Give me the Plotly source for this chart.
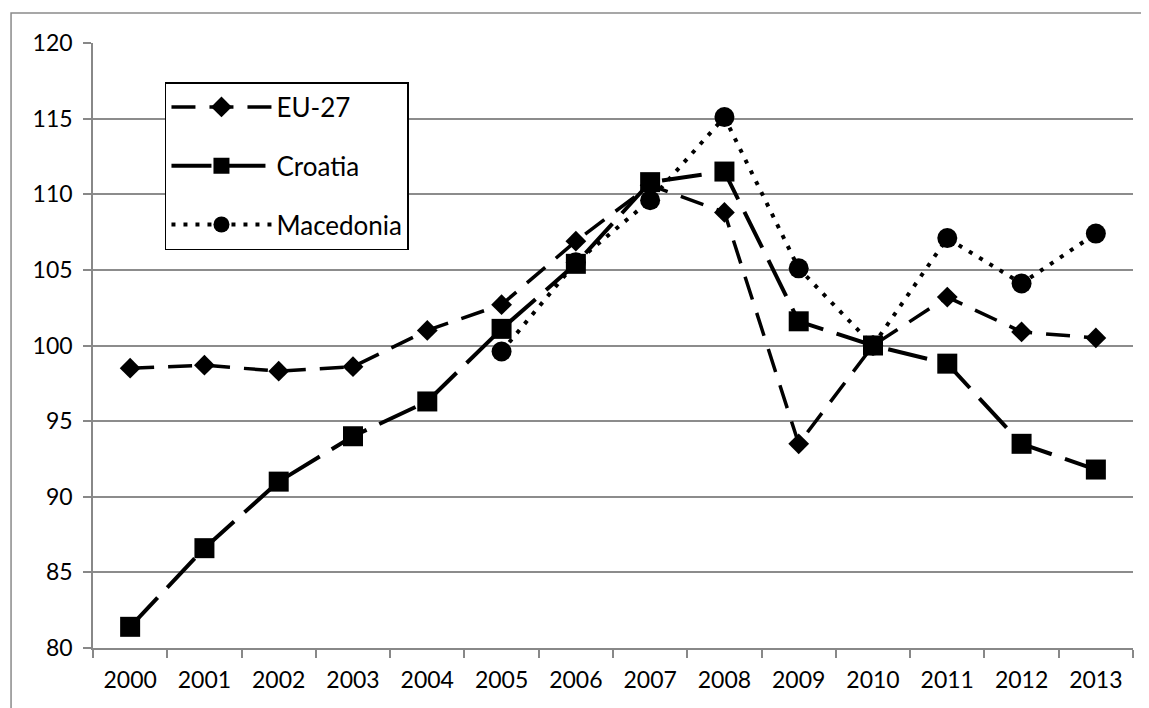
import plotly.graph_objects as go

years = [str(y) for y in range(2000, 2014)]
eu27 = [98.5, 98.7, 98.3, 98.6, 101.0, 102.7, 106.9, 110.6, 108.8, 93.5, 100.0, 103.2, 100.9, 100.5]
croatia = [81.4, 86.6, 91.0, 94.0, 96.3, 101.1, 105.4, 110.8, 111.5, 101.6, 100.0, 98.8, 93.5, 91.8]
macedonia = [None, None, None, None, None, 99.6, 105.5, 109.6, 115.1, 105.1, 100.0, 107.1, 104.1, 107.4]
y_ticks = [80, 85, 90, 95, 100, 105, 110, 115, 120]

FONT = "Lato"
fig = go.Figure()

fig.add_trace(go.Scatter(
    x=years, y=eu27, name="EU-27", mode="lines+markers", legendrank=1,
    legendgroup="a",
    line=dict(color="black", width=3.5, dash="24px,14px"),
    marker=dict(symbol="diamond", size=16, color="black"),
))
fig.add_trace(go.Scatter(
    x=years, y=macedonia, name="Macedonia", mode="lines+markers", legendrank=3,
    legendgroup="c",
    line=dict(color="black", width=4, dash="4px,8px"),
    marker=dict(symbol="circle", size=20, color="black"),
))
fig.add_trace(go.Scatter(
    x=years, y=croatia, name="Croatia", mode="lines+markers", legendrank=2,
    legendgroup="b",
    line=dict(color="black", width=4, dash="40px,14px"),
    marker=dict(symbol="square", size=20, color="black"),
))

fig.update_layout(
    width=1141, height=700,
    margin=dict(l=85, r=16, t=35, b=60),
    paper_bgcolor="white", plot_bgcolor="white",
    font=dict(family=FONT, size=23, color="black"),
    showlegend=True,
    legend=dict(
        x=0.0692, y=0.9355, xanchor="left", yanchor="top",
        bordercolor="black", borderwidth=1.5, bgcolor="white",
        font=dict(family=FONT, size=26, color="black"),
        tracegroupgap=22, itemwidth=100,
    ),
    xaxis=dict(
        type="category", tickson="boundaries", ticks="outside", ticklen=8,
        tickcolor="#888888", tickwidth=1.5, showline=True, linecolor="#888888",
        linewidth=1.5, showgrid=False, range=[-0.5, 13.5],
        tickfont=dict(family=FONT, size=23), ticklabelstandoff=11,
    ),
    yaxis=dict(
        range=[80, 120], tickvals=y_ticks, ticks="outside", ticklen=8,
        tickcolor="#888888", tickwidth=1.5, showline=True, linecolor="#888888",
        linewidth=1.5, showgrid=True, gridcolor="#8c8c8c", gridwidth=1.5,
        zeroline=False, tickfont=dict(family=FONT, size=23), ticklabelstandoff=6,
    ),
    shapes=[dict(
        type="rect", xref="paper", yref="paper",
        x0=-0.0788, x1=1.3, y0=-0.3, y1=1.0496,
        line=dict(color="#8a8a8a", width=1.5), fillcolor="rgba(0,0,0,0)",
        layer="below",
    )],
)

fig.write_html("out.html")
